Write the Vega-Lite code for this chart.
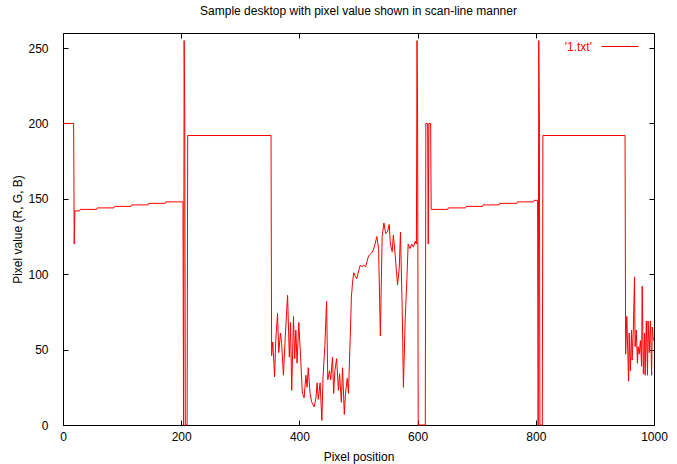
{
  "$schema": "https://vega.github.io/schema/vega-lite/v6.json",
  "autosize": {"type": "none"},
  "width": 591,
  "height": 392,
  "padding": {"left": 63, "top": 33, "right": 23, "bottom": 39},
  "background": "white",
  "title": {"text": "Sample desktop with pixel value shown in scan-line manner", "fontSize": 12, "fontWeight": "normal", "font": "Liberation Sans", "color": "black", "offset": 10},
  "config": {
    "view": {"stroke": "black", "strokeWidth": 1},
    "font": "Liberation Sans",
    "axis": {"grid": false, "domain": false, "tickColor": "black", "labelFont": "Liberation Sans", "labelFontSize": 12, "labelColor": "black", "labelFlush": false, "titleFont": "Liberation Sans", "titleFontSize": 12, "titleFontWeight": "normal", "titleColor": "black", "tickSize": -5, "tickWidth": 1}
  },
  "data": {"values": [
    {"x":0,"y":200},{"x":18,"y":200},{"x":19,"y":120},{"x":20,"y":142},{"x":28,"y":142},{"x":29,"y":143},{"x":57,"y":143},{"x":58,"y":144},{"x":86,"y":144},{"x":87,"y":145},{"x":115,"y":145},{"x":116,"y":146},{"x":144,"y":146},{"x":145,"y":147},{"x":173,"y":147},{"x":174,"y":148},{"x":203,"y":148},
    {"x":204,"y":0},{"x":205,"y":255},{"x":206,"y":205},{"x":207,"y":0},{"x":210,"y":0},{"x":211,"y":192},{"x":352,"y":192},
    {"x":353,"y":46},{"x":355,"y":55},{"x":358,"y":32},{"x":360,"y":56},{"x":363,"y":74},{"x":365,"y":48},{"x":368,"y":61},{"x":370,"y":54},{"x":373,"y":33},{"x":376,"y":58},{"x":380,"y":86},{"x":383,"y":45},{"x":385,"y":68},{"x":387,"y":23},{"x":390,"y":72},{"x":392,"y":44},{"x":394,"y":63},{"x":396,"y":41},{"x":399,"y":68},{"x":402,"y":45},{"x":405,"y":21},{"x":408,"y":18},{"x":411,"y":33},{"x":413,"y":25},{"x":415,"y":38},{"x":418,"y":21},{"x":421,"y":15},{"x":425,"y":12},{"x":428,"y":18},{"x":430,"y":28},{"x":432,"y":17},{"x":435,"y":28},{"x":438,"y":3},{"x":440,"y":32},{"x":443,"y":52},{"x":446,"y":82},{"x":448,"y":30},{"x":451,"y":36},{"x":453,"y":30},{"x":456,"y":45},{"x":458,"y":21},{"x":460,"y":36},{"x":463,"y":44},{"x":466,"y":23},{"x":468,"y":34},{"x":471,"y":15},{"x":473,"y":38},{"x":476,"y":7},{"x":478,"y":21},{"x":481,"y":31},{"x":483,"y":21},{"x":486,"y":58},{"x":488,"y":85},{"x":490,"y":95},{"x":492,"y":101},{"x":494,"y":99},{"x":497,"y":97},{"x":500,"y":102},{"x":503,"y":106},{"x":506,"y":105},{"x":509,"y":106},{"x":512,"y":105},{"x":514,"y":108},{"x":517,"y":112},{"x":519,"y":113},{"x":522,"y":114},{"x":525,"y":116},{"x":528,"y":120},{"x":531,"y":125},{"x":534,"y":117},{"x":537,"y":59},{"x":540,"y":125},{"x":543,"y":134},{"x":546,"y":127},{"x":549,"y":128},{"x":552,"y":133},{"x":554,"y":120},{"x":557,"y":115},{"x":559,"y":126},{"x":562,"y":113},{"x":565,"y":98},{"x":566,"y":93},{"x":569,"y":104},{"x":571,"y":128},{"x":574,"y":76},{"x":576,"y":25},{"x":579,"y":70},{"x":582,"y":98},{"x":584,"y":120},{"x":587,"y":117},{"x":590,"y":120},{"x":593,"y":118},{"x":596,"y":122},{"x":598,"y":120},
    {"x":599,"y":255},{"x":600,"y":205},{"x":601,"y":0},{"x":613,"y":0},{"x":614,"y":200},{"x":617,"y":200},{"x":618,"y":120},{"x":619,"y":200},{"x":622,"y":200},{"x":623,"y":143},
    {"x":651,"y":143},{"x":652,"y":144},{"x":681,"y":144},{"x":682,"y":145},{"x":710,"y":145},{"x":711,"y":146},{"x":738,"y":146},{"x":739,"y":147},{"x":768,"y":147},{"x":769,"y":148},{"x":796,"y":148},{"x":797,"y":149},{"x":803,"y":149},
    {"x":804,"y":0},{"x":805,"y":255},{"x":806,"y":205},{"x":807,"y":0},{"x":811,"y":0},{"x":812,"y":192},{"x":951,"y":192},
    {"x":952,"y":47},{"x":954,"y":72},{"x":957,"y":29},{"x":958,"y":61},{"x":960,"y":36},{"x":962,"y":63},{"x":963,"y":43},{"x":965,"y":63},{"x":967,"y":98},{"x":968,"y":52},{"x":970,"y":63},{"x":972,"y":41},{"x":973,"y":52},{"x":975,"y":47},{"x":977,"y":56},{"x":979,"y":39},{"x":980,"y":92},{"x":982,"y":34},{"x":984,"y":61},{"x":985,"y":33},{"x":987,"y":69},{"x":989,"y":33},{"x":990,"y":69},{"x":992,"y":48},{"x":994,"y":69},{"x":996,"y":33},{"x":997,"y":65},{"x":999,"y":56}
  ]},
  "transform": [{"calculate": "\"'1.txt'\"", "as": "series"}],
  "layer": [
    {
      "mark": {"type": "line", "strokeWidth": 1, "interpolate": "linear"},
      "encoding": {
        "x": {"field": "x", "type": "quantitative", "scale": {"domain": [0, 1000], "nice": false, "zero": false}, "axis": {"orient": "bottom", "values": [0, 200, 400, 600, 800, 1000], "format": "d", "title": "Pixel position", "labelPadding": 11, "titlePadding": 9}},
        "y": {"field": "y", "type": "quantitative", "scale": {"domain": [0, 260], "nice": false, "zero": false}, "axis": {"orient": "left", "values": [0, 50, 100, 150, 200, 250], "title": "Pixel value (R, G, B)", "labelPadding": 20, "titlePadding": 3}},
        "color": {"field": "series", "type": "nominal", "scale": {"range": ["#ff0000"]}, "legend": {"title": null, "orient": "none", "legendX": 538, "legendY": -5.5, "padding": 0, "symbolType": "stroke", "symbolSize": 1369, "symbolStrokeWidth": 1, "labelColor": "#ff0000", "labelFontSize": 12, "labelFont": "Liberation Sans", "labelAlign": "right", "labelOffset": -47}}
      }
    },
    {
      "mark": {"type": "line", "strokeOpacity": 0},
      "encoding": {
        "x": {"field": "x", "type": "quantitative", "scale": {"domain": [0, 1000], "nice": false, "zero": false}, "axis": {"orient": "top", "values": [0, 200, 400, 600, 800, 1000], "labels": false, "title": null}},
        "y": {"field": "y", "type": "quantitative", "scale": {"domain": [0, 260], "nice": false, "zero": false}, "axis": {"orient": "right", "values": [0, 50, 100, 150, 200, 250], "labels": false, "title": null}}
      }
    }
  ],
  "resolve": {"axis": {"x": "independent", "y": "independent"}}
}
